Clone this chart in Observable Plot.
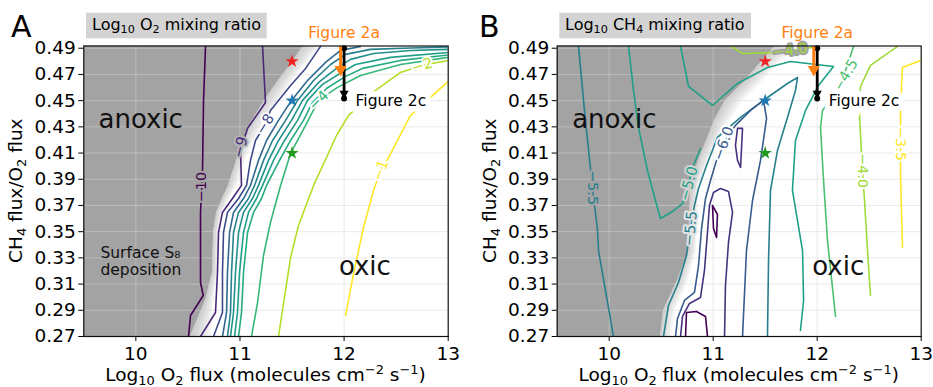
<!DOCTYPE html>
<html><head><meta charset="utf-8">
<script src="https://cdn.jsdelivr.net/npm/d3@7"></script>
<script src="https://cdn.jsdelivr.net/npm/@observablehq/plot@0.6"></script>
<style>
body{margin:0;background:#fff;}
#wrap{position:relative;width:933px;height:387px;font-family:"DejaVu Sans",sans-serif;overflow:hidden;}
#wrap > svg{position:absolute;top:0;}
</style></head><body><div id="wrap"></div>
<script>
// ---------- axes ----------
const xDomain = [9.5, 13];
const yDomain = [0.27, 0.4917];
const xTicks = [10, 11, 12, 13];
const yTicks = [0.27, 0.29, 0.31, 0.33, 0.35, 0.37, 0.39, 0.41, 0.43, 0.45, 0.47, 0.49];

// ---------- panel A : log10 O2 mixing ratio contours ----------
const o2Lines = [
  {level: -10, pts: [[10.669,0.4914],[10.650,0.4502],[10.640,0.3952],[10.621,0.3647],[10.621,0.3112],[10.647,0.3013],[10.525,0.2860],[10.506,0.27]]},
  {level: -9, pts: [[11.217,0.4914],[11.245,0.4486],[11.073,0.4288],[11.005,0.4120],[11.015,0.3853],[10.928,0.3753],[10.832,0.3647],[10.794,0.3494],[10.784,0.3189],[10.765,0.2883],[10.621,0.27]]},
  {level: -8, pts: [[10.746,0.27],[10.832,0.2883],[10.832,0.3189],[10.842,0.3494],[10.880,0.3647],[10.986,0.3753],[11.063,0.3853],[11.101,0.4044],[11.149,0.4196],[11.236,0.4311],[11.293,0.4425],[11.486,0.4616],[11.630,0.4746],[11.774,0.4914]]},
  {level: -7, pts: [[10.832,0.27],[10.871,0.2883],[10.880,0.3189],[10.900,0.3494],[10.938,0.3647],[11.034,0.3753],[11.101,0.3853],[11.178,0.4044],[11.255,0.4196],[11.370,0.4349],[11.495,0.4502],[11.649,0.4654],[11.822,0.4792],[11.966,0.4883],[12.158,0.4914]]},
  {level: -6, pts: [[10.880,0.27],[10.909,0.2883],[10.919,0.3189],[10.938,0.3494],[10.986,0.3647],[11.082,0.3753],[11.140,0.3853],[11.226,0.4044],[11.313,0.4196],[11.438,0.4349],[11.553,0.4502],[11.707,0.4654],[11.870,0.4776],[12.014,0.4853],[12.254,0.4891],[12.638,0.4902],[13.0,0.4910]]},
  {level: -5.5, pts: [[10.909,0.27],[10.938,0.2883],[10.957,0.3189],[10.986,0.3494],[11.034,0.3647],[11.120,0.3753],[11.178,0.3853],[11.274,0.4044],[11.370,0.4196],[11.495,0.4349],[11.601,0.4502],[11.755,0.4639],[11.927,0.4746],[12.062,0.4815],[12.283,0.4860],[12.638,0.4883],[13.0,0.4891]]},
  {level: -5, pts: [[10.948,0.27],[10.976,0.2883],[10.996,0.3189],[11.034,0.3494],[11.082,0.3647],[11.159,0.3753],[11.217,0.3853],[11.322,0.4044],[11.428,0.4196],[11.553,0.4349],[11.649,0.4502],[11.793,0.4624],[11.976,0.4715],[12.110,0.4776],[12.446,0.4830],[13.0,0.4868]]},
  {level: -4.5, pts: [[10.986,0.27],[11.015,0.2883],[11.034,0.3189],[11.073,0.3494],[11.130,0.3647],[11.207,0.3753],[11.255,0.3853],[11.380,0.4044],[11.486,0.4196],[11.610,0.4349],[11.697,0.4486],[11.831,0.4593],[12.014,0.4685],[12.177,0.4746],[12.542,0.4807],[13.0,0.4849]]},
  {level: -4, pts: [[11.111,0.27],[11.169,0.2960],[11.226,0.3318],[11.293,0.3570],[11.390,0.3853],[11.486,0.4097],[11.630,0.4311],[11.755,0.4502],[11.937,0.4601],[12.158,0.4692],[12.542,0.4776],[13.0,0.4830]]},
  {level: -2, pts: [[11.370,0.27],[11.486,0.3303],[11.562,0.3547],[11.707,0.3853],[11.831,0.4066],[11.927,0.4234],[12.043,0.4387],[12.302,0.4578],[12.542,0.4715],[12.744,0.4769],[13.0,0.4807]]},
  {level: -1, pts: [[12.014,0.2860],[12.091,0.3181],[12.187,0.3532],[12.283,0.3815],[12.350,0.3967],[12.427,0.4066],[12.638,0.4387],[13.0,0.4647]]}
];
// [text, level, x, y, rotation, background]
const o2Labels = [
  ["−10", -10, 10.630, 0.384, -90, "#a3a3a3"],
  ["−9", -9, 11.005, 0.4145, -75, "#b4b4b4"],
  ["−8", -8, 11.24, 0.432, -58, "white"],
  ["−4", -4, 11.755, 0.4502, -45, "white"],
  ["−2", -2, 12.75, 0.4769, -15, "white"],
  ["−1", -1, 12.35, 0.3967, -70, "white"]
];
// anoxic region edge: y, end of solid grey, end of fade
const o2Anoxic = [
  {y: 0.27, inner: 10.525, outer: 10.720},
  {y: 0.2975, inner: 10.669, outer: 10.750},
  {y: 0.3189, inner: 10.736, outer: 10.790},
  {y: 0.3494, inner: 10.746, outer: 10.800},
  {y: 0.3647, inner: 10.775, outer: 10.835},
  {y: 0.3753, inner: 10.832, outer: 10.900},
  {y: 0.3853, inner: 10.890, outer: 10.975},
  {y: 0.4044, inner: 10.967, outer: 11.050},
  {y: 0.4196, inner: 11.034, outer: 11.140},
  {y: 0.4349, inner: 11.120, outer: 11.250},
  {y: 0.4502, inner: 11.236, outer: 11.380},
  {y: 0.4654, inner: 11.370, outer: 11.510},
  {y: 0.4807, inner: 11.514, outer: 11.670},
  {y: 0.4917, inner: 11.610, outer: 11.770}
];

// ---------- panel B : log10 CH4 mixing ratio contours ----------
const ch4Lines = [
  {level: -3.5, pts: [[12.993,0.4807],[12.82,0.4753],[12.801,0.4448],[12.801,0.4173],[12.801,0.3944],[12.82,0.3379]]},
  {level: -4, pts: [[11.176,0.4914],[11.282,0.4860],[11.618,0.4868],[11.888,0.4898],[12.0125,0.4914]]},
  {level: -4, pts: [[12.772,0.4914],[12.5125,0.4769],[12.416,0.4608],[12.407,0.4372],[12.436,0.3967],[12.455,0.3738],[12.484,0.3356],[12.5125,0.3013]]},
  {level: -4.5, pts: [[12.349,0.4914],[12.30,0.4792],[12.255,0.4692],[12.176,0.4563],[12.051,0.4425],[12.032,0.4295],[12.061,0.3891],[12.099,0.3433],[12.176,0.2853]]},
  {level: -5, pts: [[10.686,0.4914],[10.763,0.4608],[10.993,0.4463],[11.234,0.4631],[11.522,0.4753],[11.743,0.4799],[12.157,0.4761],[12.0125,0.4616],[11.888,0.4425],[11.791,0.4196],[11.762,0.3815],[11.859,0.3356],[11.869,0.2975],[11.839,0.2746]]},
  {level: -5, pts: [[10.186,0.4914],[10.234,0.4578],[10.282,0.4295],[10.368,0.3967],[10.445,0.3738],[10.493,0.3601],[10.609,0.3654],[10.705,0.3715],[10.763,0.3868],[10.811,0.4005],[10.878,0.4135]]},
  {level: -5.5, pts: [[9.705,0.4914],[9.753,0.4502],[9.772,0.4349],[9.839,0.3837],[9.888,0.3509],[9.897,0.3356],[9.964,0.3051],[10.041,0.27]]},
  {level: -5.5, pts: [[10.522,0.27],[10.570,0.2937],[10.666,0.3112],[10.743,0.3318],[10.782,0.3524],[10.820,0.3700],[10.859,0.3830],[10.936,0.4005],[11.041,0.4219],[11.263,0.4372],[11.522,0.4524],[11.714,0.4631],[11.811,0.4677],[11.791,0.4578],[11.714,0.4372],[11.618,0.4120],[11.551,0.3815],[11.532,0.3280],[11.522,0.27]]},
  {level: -6, pts: [[10.638,0.27],[10.657,0.2837],[10.724,0.2975],[10.820,0.3036],[10.859,0.3242],[10.888,0.3524],[10.926,0.3753],[10.974,0.3891],[11.032,0.4044],[11.099,0.4173],[11.214,0.4311],[11.359,0.4425],[11.484,0.4502],[11.513,0.4364],[11.455,0.4044],[11.378,0.3738],[11.320,0.3356],[11.282,0.27]]},
  {level: -6.5, pts: [[10.686,0.27],[10.705,0.2853],[10.772,0.2952],[10.878,0.2998],[10.916,0.3204],[10.945,0.3494],[10.964,0.3700],[11.003,0.3799],[11.070,0.3830],[11.147,0.3807],[11.186,0.3647],[11.147,0.3418],[11.118,0.3089],[11.109,0.27]]},
  {level: -6.5, pts: [[11.234,0.4288],[11.282,0.4288],[11.263,0.3990],[11.234,0.4044],[11.214,0.4158],[11.234,0.4288]]},
  {level: -7, pts: [[10.734,0.27],[10.743,0.2883],[10.839,0.2891],[10.926,0.2853],[10.945,0.27]]},
  {level: -7, pts: [[10.993,0.3700],[11.041,0.3631],[11.032,0.3456],[11.003,0.3524],[10.993,0.3700]]}
];
const ch4Labels = [
  ["−4.0", -4, 11.74, 0.4884, -8, "#a3a3a3"],
  ["−4.5", -4.5, 12.272, 0.4692, -60, "white"],
  ["−3.5", -3.5, 12.801, 0.4173, 90, "white"],
  ["−4.0", -4, 12.436, 0.3967, 90, "white"],
  ["−5.5", -5.5, 9.839, 0.3837, 90, "#a3a3a3"],
  ["−6.0", -6, 11.10, 0.4173, -70, "white"],
  ["−5.0", -5, 10.765, 0.3866, -75, "#d2d2d2"],
  ["−5.5", -5.5, 10.782, 0.3524, -85, "#e4e4e4"]
];
const ch4Anoxic = [
  {y: 0.27, inner: 10.493, outer: 10.600},
  {y: 0.2898, inner: 10.522, outer: 10.635},
  {y: 0.3127, inner: 10.657, outer: 10.760},
  {y: 0.3356, inner: 10.763, outer: 10.840},
  {y: 0.3853, inner: 10.782, outer: 10.870},
  {y: 0.4044, inner: 10.859, outer: 10.960},
  {y: 0.4196, inner: 10.936, outer: 11.050},
  {y: 0.4349, inner: 11.0125, outer: 11.160},
  {y: 0.4502, inner: 11.118, outer: 11.290},
  {y: 0.4654, inner: 11.311, outer: 11.480},
  {y: 0.4807, inner: 11.474, outer: 11.660},
  {y: 0.4917, inner: 11.599, outer: 11.820}
];

// ---------- shared annotations ----------
const starPoints = [
  {x: 11.5, y: 0.48, color: "#ee2222"},
  {x: 11.5, y: 0.45, color: "#1f77b4"},
  {x: 11.5, y: 0.41, color: "#1f9a1f"}
];
const fig2aArrow = {x: 11.967, yTop: 0.4917, yHead: 0.4738};
const fig2cArrow = {x: 12.0, yTop: 0.49, yHead: 0.4555, yEnd: 0.4517};
const fig2aText = {x: 12.0, text: "Figure 2a"};
const fig2cText = {x: 12.11, y: 0.4494, text: "Figure 2c"};
const regionA = [
  {x: 9.641, y: 0.4288, text: "anoxic", size: 26},
  {x: 11.95, y: 0.3166, text: "oxic", size: 26},
  {x: 9.66, y: 0.3301, text: "Surface S₈", size: 15.5},
  {x: 9.66, y: 0.3173, text: "deposition", size: 15.5}
];
const regionB = [
  {x: 9.644, y: 0.4288, text: "anoxic", size: 26},
  {x: 11.952, y: 0.3166, text: "oxic", size: 26}
];

const GREY = "#a3a3a3";

function panel({lines, labels, anoxic, colorDomain, width, marginLeft, marginRight, region}) {
  const rows = lines.flatMap((c, i) => c.pts.map(([x, y]) => ({id: i, level: c.level, x, y})));
  const labelRows = labels.map(([text, level, x, y, rotate, bg]) => ({text, level, x, y, rotate, bg}));
  const bgs = [...new Set(labelRows.map(d => d.bg))];
  const fades = [1/6, 2/6, 3/6, 4/6, 5/6, 1];
  return Plot.plot({
    width, height: 387, marginLeft, marginRight, marginTop: 45.5, marginBottom: 51,
    x: {domain: xDomain},
    y: {domain: yDomain},
    color: {type: "linear", scheme: "viridis", domain: colorDomain},
    style: {fontFamily: "DejaVu Sans", fontSize: "18.5px", background: "transparent", overflow: "visible", color: "black"},
    marks: [
      Plot.areaX(anoxic, {y: "y", x1: () => xDomain[0], x2: "inner", fill: GREY}),
      ...fades.map(f => Plot.areaX(anoxic, {y: "y", x1: "inner", x2: d => d.inner + f * (d.outer - d.inner), fill: GREY, fillOpacity: 0.11})),
      Plot.gridX(xTicks.slice(0, 3), {stroke: "#d8d8d8", strokeOpacity: 0.5, strokeWidth: 1}),
      Plot.gridY(yTicks, {stroke: "#d8d8d8", strokeOpacity: 0.5, strokeWidth: 1}),
      Plot.line(rows, {x: "x", y: "y", z: "id", stroke: "level", strokeWidth: 1.6, strokeLinejoin: "round", clip: true}),
      ...bgs.map(bg => Plot.text(labelRows, {filter: d => d.bg === bg, x: "x", y: "y", text: "text", rotate: "rotate",
        fill: "level", stroke: bg, strokeWidth: 4, fontSize: 14.5, lineAnchor: "middle"})),
      Plot.text(region, {x: "x", y: "y", text: "text", fontSize: "size", textAnchor: "start", lineAnchor: "bottom", fill: "#111"}),
      Plot.text([fig2cText], {x: "x", y: "y", text: "text", textAnchor: "start", lineAnchor: "middle", fontSize: 15.5, fill: "black", stroke: "white", strokeWidth: 11, strokeLinejoin: "miter"}),
      // black arrow (Figure 2c)
      Plot.link([fig2cArrow], {x1: "x", x2: "x", y1: "yTop", y2: "yHead", stroke: "black", strokeWidth: 2.8}),
      Plot.dot([fig2cArrow], {x: "x", y: "yHead", symbol: "triangle", rotate: 180, r: 3.4, fill: "black"}),
      Plot.dot([fig2cArrow], {x: "x", y: "yTop", r: 3, fill: "black"}),
      Plot.dot([fig2cArrow], {x: "x", y: "yEnd", r: 3, fill: "black"}),
      // orange arrow (Figure 2a)
      Plot.link([fig2aArrow], {x1: "x", x2: "x", y1: "yTop", y2: "yHead", stroke: "#ff7f0e", strokeWidth: 3}),
      Plot.dot([fig2aArrow], {x: "x", y: "yHead", symbol: "triangle", rotate: 180, r: 4.5, fill: "#ff7f0e"}),
      Plot.text([fig2aText], {x: "x", y: () => yDomain[1], dy: -8, text: "text", lineAnchor: "bottom", fontSize: 15.5, fill: "#ff7f0e"}),
      ...starPoints.map(s => Plot.dot([s], {x: "x", y: "y", symbol: "star", r: 4.2, fill: s.color})),
      Plot.frame({stroke: "#111", strokeWidth: 1.2}),
      Plot.axisX(xTicks, {tickSize: 5, tickPadding: 5, label: null, tickFormat: d => String(d)}),
      Plot.axisY(yTicks, {tickSize: 5, tickPadding: 3, label: null, tickFormat: d3.format(".2f")})
    ]
  });
}

const wrap = document.getElementById("wrap");
const svgA = panel({lines: o2Lines, labels: o2Labels, anoxic: o2Anoxic, colorDomain: [-10, -1], width: 466, marginLeft: 83.3, marginRight: 18.3, region: regionA});
svgA.style.left = "0px";
wrap.appendChild(svgA);
const svgB = panel({lines: ch4Lines, labels: ch4Labels, anoxic: ch4Anoxic, colorDomain: [-7, -3.5], width: 467, marginLeft: 90.7, marginRight: 12.3, region: regionB});
svgB.style.left = "466px";
wrap.appendChild(svgB);

// ---------- overlay: panel letters, title boxes, axis titles ----------
const ov = d3.select(wrap).append("svg").attr("width", 933).attr("height", 387)
  .style("left", "0px").style("pointer-events", "none").style("font-family", "DejaVu Sans");

function rich(x, y, size, parts, {anchor = "start", rotate = 0, fill = "black"} = {}) {
  const t = ov.append("text").attr("x", x).attr("y", y).attr("font-size", size)
    .attr("text-anchor", anchor).attr("fill", fill);
  if (rotate) t.attr("transform", `rotate(${rotate},${x},${y})`);
  let off = 0;
  for (const [s, kind] of parts) {
    const target = kind === "sub" ? 0.2 * size : kind === "sup" ? -0.38 * size : 0;
    const sp = t.append("tspan").text(s);
    if (kind) sp.attr("font-size", size * 0.7);
    if (target - off !== 0) sp.attr("dy", target - off);
    off = target;
  }
  return t;
}

const titles = [
  {box: [86, 12.7, 180.7, 25.6], x: 92, parts: [["Log"], ["10", "sub"], [" O"], ["2", "sub"], [" mixing ratio"]]},
  {box: [559.3, 12.7, 191.7, 25.6], x: 565, parts: [["Log"], ["10", "sub"], [" CH"], ["4", "sub"], [" mixing ratio"]]}
];
for (const t of titles) {
  ov.append("rect").attr("x", t.box[0]).attr("y", t.box[1]).attr("width", t.box[2]).attr("height", t.box[3]).attr("fill", "#d3d3d3");
  rich(t.x, 30, 16, t.parts);
}
ov.append("text").attr("x", 11).attr("y", 36.7).attr("font-size", 30).text("A");
ov.append("text").attr("x", 479).attr("y", 36.7).attr("font-size", 30).text("B");

const xLabel = [["Log"], ["10", "sub"], [" O"], ["2", "sub"], [" flux (molecules cm"], ["−2", "sup"], [" s"], ["−1", "sup"], [")"]];
const yLabel = [["CH"], ["4", "sub"], [" flux/O"], ["2", "sub"], [" flux"]];
rich(265.5, 381, 18.5, xLabel, {anchor: "middle"});
rich(738.7, 381, 18.5, xLabel, {anchor: "middle"});
rich(22.5, 190.7, 18.5, yLabel, {anchor: "middle", rotate: -90});
rich(495.9, 190.7, 18.5, yLabel, {anchor: "middle", rotate: -90});
</script></body></html>
